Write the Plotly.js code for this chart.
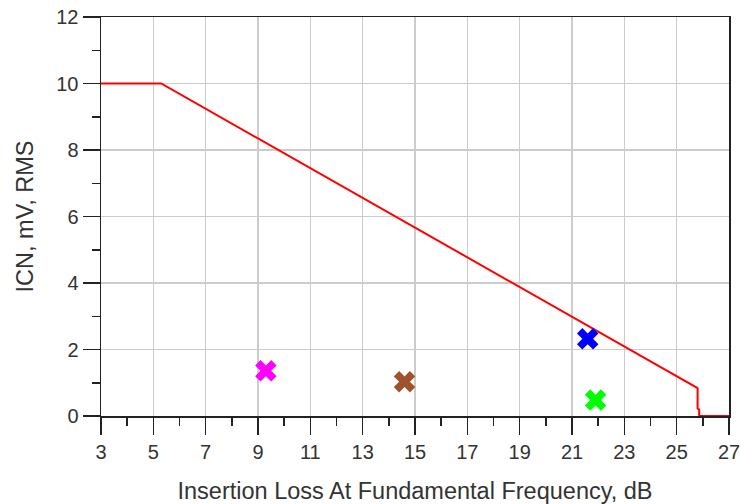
<!DOCTYPE html>
<html><head><meta charset="utf-8">
<script src="https://cdn.plot.ly/plotly-3.0.1.min.js"></script>
<style>html,body{margin:0;padding:0;background:#fff;}#chart{width:740px;height:504px;}</style>
</head><body><div id="chart"></div>
<script>
// Limit line (red)
const limitX = [3, 5.3, 25.8, 25.8, 25.86, 25.86, 27];
const limitY = [10, 10, 0.84, 0.22, 0.2, 0, 0];
// Measured points
const ptNames = ['A', 'B', 'C', 'D'];
const ptX = [9.3, 14.6, 21.6, 21.9];
const ptY = [1.36, 1.03, 2.32, 0.48];
const ptColors = ['#FF00FF', '#A0522D', '#0000FF', '#00FF00'];

const xTicks = [3,5,7,9,11,13,15,17,19,21,23,25,27];
const yTicks = [0,2,4,6,8,10,12];

const traces = [{
  x: limitX, y: limitY, mode: 'lines', type: 'scatter',
  line: {color: '#FF0000', width: 2}, cliponaxis: false, showlegend: false
}];
ptX.forEach((v, i) => traces.push({
  x: [v], y: [ptY[i]], mode: 'markers', type: 'scatter', name: ptNames[i],
  marker: {symbol: 'x', size: 19, color: ptColors[i], line: {width: 0}},
  showlegend: false
}));

const fam = 'Liberation Sans, Arial, sans-serif';
const layout = {
  width: 740, height: 504,
  margin: {l: 101, r: 11, t: 17, b: 88},
  paper_bgcolor: '#fff', plot_bgcolor: '#fff',
  font: {family: fam, size: 16, color: '#333'},
  xaxis: {
    range: [3, 27], tickvals: xTicks, ticktext: xTicks.map(String),
    ticks: 'outside', ticklen: 17, tickwidth: 1.5, tickcolor: '#222',
    showline: true, linecolor: '#222', linewidth: 1.5, mirror: true,
    showgrid: true, gridcolor: '#cccccc', gridwidth: 1.5, zeroline: false,
    minor: {dtick: 1, ticks: 'outside', ticklen: 8, tickwidth: 1.5, tickcolor: '#222', showgrid: false},
    tickfont: {family: fam, size: 20, color: '#333'},
    ticklabeloverflow: 'allow',
    title: {text: 'Insertion Loss At Fundamental Frequency, dB', font: {family: fam, size: 23.5, color: '#333'}, standoff: 21}
  },
  yaxis: {
    range: [0, 12], tickvals: yTicks, ticktext: yTicks.map(String),
    ticks: 'outside', ticklen: 17, tickwidth: 1.5, tickcolor: '#222',
    showline: true, linecolor: '#222', linewidth: 1.5, mirror: true,
    showgrid: true, gridcolor: '#cccccc', gridwidth: 1.5, zeroline: false,
    minor: {dtick: 1, ticks: 'outside', ticklen: 8, tickwidth: 1.5, tickcolor: '#222', showgrid: false},
    tickfont: {family: fam, size: 20, color: '#333'},
    title: {text: 'ICN, mV, RMS', font: {family: fam, size: 23.5, color: '#333'}, standoff: 16}
  }
};
Plotly.newPlot('chart', traces, layout, {displayModeBar: false, staticPlot: true});
</script></body></html>
